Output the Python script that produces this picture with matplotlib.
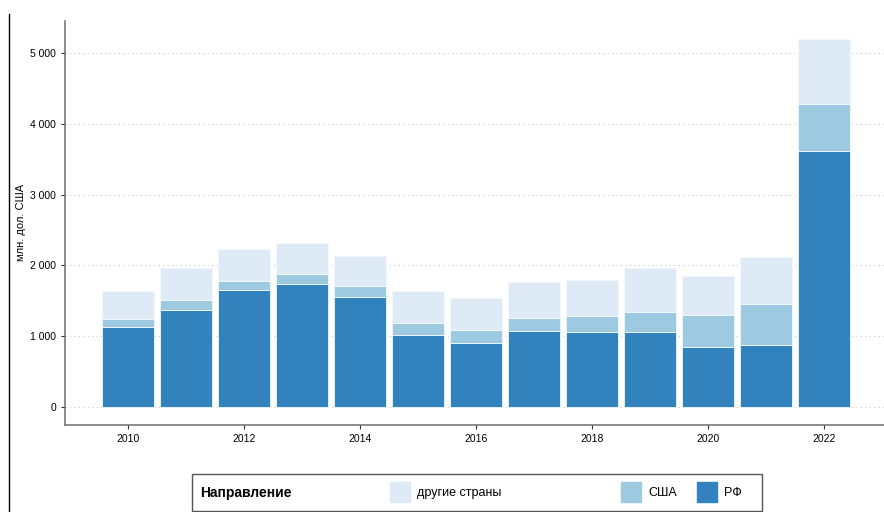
import matplotlib
matplotlib.use("Agg")
import matplotlib.pyplot as plt
from matplotlib.patches import Rectangle
from matplotlib.lines import Line2D
from matplotlib.ticker import FuncFormatter

plt.rcParams["font.family"] = ["Liberation Sans", "DejaVu Sans"]

years = list(range(2010, 2023))
rf = [1126, 1374, 1653, 1742, 1558, 1021, 904, 1073, 1064, 1064, 843, 880, 3611]
usa = [117, 133, 127, 141, 156, 170, 188, 184, 221, 282, 456, 575, 664]
other = [395, 461, 456, 433, 419, 447, 448, 509, 509, 622, 547, 664, 923]

series = [("РФ", rf, "#3182bd"), ("США", usa, "#9ecae1"), ("другие страны", other, "#deebf7")]
legend_title = "Направление"
y_label = "млн. дол. США"

fig = plt.figure(figsize=(8.84, 5.12), dpi=100)
ax = fig.add_axes([65 / 884, 1 - 425 / 512, 1 - 65 / 884, (425 - 20.7) / 512])

bottom = [0] * len(years)
for name, vals, col in series:
    ax.bar(years, vals, width=0.9, bottom=bottom, color=col,
           edgecolor="#f4f8fc", linewidth=0.6, zorder=3)
    bottom = [b + v for b, v in zip(bottom, vals)]

ax.set_xlim(2008.91, 2023.03)
ax.set_ylim(-254, 5456)
ax.set_xticks(range(2010, 2023, 2))
ax.set_yticks(range(0, 5001, 1000))
ax.yaxis.set_major_formatter(FuncFormatter(lambda v, p: f"{int(v):,}".replace(",", " ")))
ax.grid(axis="y", color="#c8c8c8", ls=(0, (1, 3)), lw=0.8, zorder=0)
for s in ("top", "right"):
    ax.spines[s].set_visible(False)
for s in ("left", "bottom"):
    ax.spines[s].set_color("#6e6e6e")
    ax.spines[s].set_linewidth(1.1)
ax.tick_params(axis="both", labelsize=7.5, colors="#333333", length=3, width=0.8,
               labelcolor="black")
ax.set_ylabel(y_label, fontsize=8)
ax.yaxis.set_label_coords(-39 / 819, 0.5)

# left border line of the image
fig.add_artist(Line2D([9 / 884, 9 / 884], [0, 1 - 14 / 512], color="black", lw=1,
                      transform=fig.transFigure))

# legend box
W, H = 884, 512
fig.add_artist(Rectangle((192 / W, 1 - 511 / H), (762 - 192) / W, (511 - 474) / H,
                         transform=fig.transFigure, fill=False, edgecolor="#555555", lw=1))
ymid = 1 - 493 / H
fig.text(200 / W, ymid, legend_title, fontsize=10, fontweight="bold", va="center")
keys = [("другие страны", "#deebf7", 390), ("США", "#9ecae1", 621), ("РФ", "#3182bd", 697)]
for lab, col, kx in keys:
    fig.add_artist(Rectangle((kx / W, 1 - 502 / H), 20 / W, 20 / H,
                             transform=fig.transFigure, color=col))
    fig.text((kx + 27) / W, ymid, lab, fontsize=9, va="center")

fig.savefig("out.png", dpi=100)
